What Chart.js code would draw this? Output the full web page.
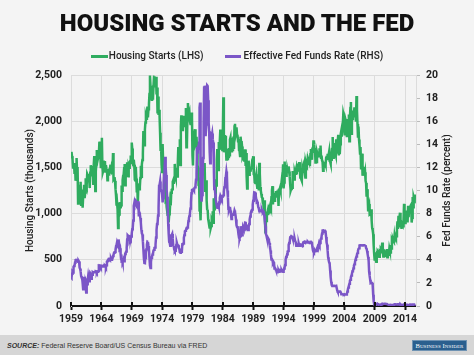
<!DOCTYPE html>
<html><head><meta charset="utf-8">
<script src="https://cdn.jsdelivr.net/npm/chart.js@4.4.1/dist/chart.umd.min.js"></script>
<style>
html,body{margin:0;padding:0;background:#f4f4f4;}
#wrap{position:relative;width:474px;height:355px;overflow:hidden;background:#f4f4f4;font-family:Roboto,"Liberation Sans",sans-serif;}
#title{position:absolute;left:0;top:8px;width:474px;text-align:center;font-size:24px;font-weight:900;line-height:30px;color:#111;}
#legend{position:absolute;left:0;top:49px;width:474px;height:14px;display:flex;justify-content:center;align-items:center;font-size:10px;font-weight:500;color:#222;line-height:14px;}
.sw{display:inline-block;height:3px;}
#cv{position:absolute;left:0;top:0;}
#footer{position:absolute;left:0;top:335px;width:474px;height:20px;background:#d6d6d6;}
#src{position:absolute;left:7px;top:6px;font-size:7px;line-height:9px;color:#333;font-family:"Liberation Sans",Arial,sans-serif;}
#bi{position:absolute;left:412px;top:5px;width:53px;height:9px;background:#2a5f8e;border:1px solid #6f93b3;color:#fff;font-family:"Liberation Serif","DejaVu Serif",serif;font-size:6.5px;line-height:9px;text-align:center;font-variant:small-caps;letter-spacing:0.1px;}
</style></head>
<body>
<div id="wrap">
<canvas id="cv" width="474" height="335"></canvas>
<div id="title">HOUSING STARTS AND THE FED</div>
<div id="legend">
  <span class="sw" style="width:17px;background:#2fac5f"></span><span style="margin-left:1px">Housing Starts (LHS)</span>
  <span class="sw" style="width:16px;background:#7b56c7;margin-left:21px"></span><span style="margin-left:3px">Effective Fed Funds Rate (RHS)</span>
</div>
<div id="footer"><div id="src"><b><i>SOURCE:</i></b> Federal Reserve Board/US Census Bureau via FRED</div><div id="bi">Business Insider</div></div>
</div>
<script>
const startYear = 1959;
const yearTicks = [1959,1964,1969,1974,1979,1984,1989,1994,1999,2004,2009,2014];
const seriesNames = ["Housing Starts (LHS)","Effective Fed Funds Rate (RHS)"];
// Monthly housing starts, thousands (Jan 1959 - Sep 2015)
const housingStarts = [
1657,1667,1620,1590,1498,1503,1547,1430,1540,1355,1416,1601,
1460,1503,1109,1289,1271,1247,1197,1344,1097,1246,1246,1063,
1183,1226,1312,1166,1228,1382,1335,1312,1429,1415,1385,1365,
1361,1278,1443,1524,1483,1404,1450,1517,1324,1533,1622,1564,
1244,1456,1534,1689,1641,1588,1614,1639,1763,1779,1622,1491,
1603,1820,1517,1448,1467,1550,1562,1569,1455,1524,1486,1484,
1361,1433,1423,1438,1478,1488,1529,1432,1482,1452,1460,1656,
1370,1378,1394,1352,1265,1194,1086,1119,1046,843,961,990,
1067,1123,1056,1091,1304,1248,1364,1407,1421,1491,1538,1308,
1380,1520,1466,1554,1408,1405,1512,1495,1556,1569,1630,1548,
1769,1705,1561,1524,1583,1528,1368,1358,1507,1381,1229,1327,
1085,1305,1319,1264,1290,1385,1517,1399,1534,1580,1647,1893,
1828,1741,1910,1986,2049,2026,2083,2158,2041,2128,2182,2295,
2494,2390,2334,2249,2221,2254,2252,2382,2481,2485,2421,2366,
2481,2289,2365,2084,2266,2067,2123,2051,1874,1677,1724,1526,
1451,1752,1555,1607,1426,1513,1316,1142,1150,1070,1026,975,
1032,904,993,1005,1121,1087,1226,1260,1264,1344,1360,1321,
1367,1538,1421,1395,1459,1495,1401,1550,1720,1629,1641,1804,
1527,1943,2063,1892,1971,1893,2058,2020,1949,2042,2042,2142,
1718,1738,2032,2197,2075,2070,2092,1996,1970,1981,2094,2044,
1630,1520,1847,1748,1876,1913,1760,1778,1832,1681,1524,1498,
1341,1350,1047,1051,927,1196,1269,1436,1471,1523,1510,1482,
1547,1246,1306,1360,1140,1045,1041,940,911,873,837,910,
843,866,931,917,1025,902,1166,1046,1144,1173,1372,1303,
1586,1699,1606,1472,1776,1733,1785,1910,1710,1715,1785,1688,
1897,2260,1663,1851,1774,1843,1732,1586,1698,1590,1689,1612,
1711,1632,1800,1821,1680,1676,1684,1743,1676,1834,1698,1942,
1972,1848,1876,1933,1854,1847,1782,1807,1687,1681,1623,1833,
1774,1784,1726,1614,1628,1594,1575,1605,1695,1515,1656,1400,
1271,1473,1532,1573,1421,1478,1467,1493,1492,1522,1569,1563,
1621,1425,1422,1339,1331,1397,1427,1332,1279,1410,1351,1251,
1551,1437,1289,1248,1212,1177,1171,1115,1110,1014,1145,969,
798,965,921,1001,996,1036,1063,1049,1015,1079,1103,1079,
1176,1250,1297,1099,1214,1145,1139,1226,1186,1244,1214,1227,
1210,1210,1083,1258,1260,1280,1254,1300,1343,1392,1376,1533,
1272,1337,1564,1465,1526,1409,1439,1450,1474,1450,1511,1455,
1407,1316,1249,1267,1314,1281,1461,1416,1369,1369,1452,1431,
1467,1491,1424,1516,1504,1467,1472,1557,1475,1392,1489,1370,
1355,1486,1457,1492,1442,1494,1437,1390,1546,1520,1510,1566,
1525,1584,1567,1540,1536,1641,1698,1614,1582,1715,1660,1792,
1748,1670,1710,1553,1611,1559,1669,1648,1635,1608,1648,1708,
1636,1737,1604,1626,1575,1559,1463,1541,1507,1549,1551,1532,
1600,1625,1590,1649,1605,1636,1670,1567,1562,1540,1602,1568,
1698,1829,1642,1592,1764,1717,1655,1633,1804,1648,1753,1788,
1853,1629,1726,1643,1751,1867,1897,1833,1939,1967,2083,2057,
1911,1846,1998,2003,1981,1828,2002,2024,1905,2072,1782,2042,
2144,2207,1864,2061,2025,2068,2054,2095,2151,2065,2147,1994,
2273,2119,1969,1821,1942,1802,1737,1650,1720,1491,1570,1649,
1409,1480,1495,1490,1415,1448,1354,1330,1183,1264,1197,1037,
1084,1103,1005,1013,973,1046,923,844,820,777,652,560,
490,582,505,478,540,585,594,586,585,534,588,581,
614,604,636,687,583,536,546,599,594,543,545,539,
617,528,593,555,556,623,599,580,659,622,711,697,
721,704,695,753,708,757,740,754,847,915,833,976,
888,962,1010,852,919,835,895,883,863,936,1105,1003,
897,928,954,1034,985,905,1085,961,1040,1081,1016,1087,
1097,903,955,1181,1069,1177,1156,1148,1207
];
// Monthly effective fed funds rate, percent (Jan 1959 - Sep 2015)
const fedFundsRate = [
2.48,2.43,2.80,2.96,2.90,3.39,3.47,3.50,3.76,3.98,4.00,3.99,
3.99,3.97,3.84,3.92,3.85,3.32,3.23,2.98,2.60,2.47,2.44,1.98,
1.45,2.54,2.02,1.49,1.98,1.73,1.17,2.00,1.88,2.26,2.61,2.33,
2.15,2.37,2.85,2.78,2.36,2.68,2.71,2.93,2.90,2.90,2.94,2.93,
2.92,3.00,2.98,2.90,3.00,2.99,3.02,3.49,3.48,3.50,3.48,3.38,
3.48,3.48,3.43,3.47,3.50,3.50,3.42,3.50,3.45,3.36,3.52,3.85,
3.90,3.98,4.04,4.09,4.10,4.04,4.09,4.12,4.01,4.08,4.10,4.32,
4.42,4.60,4.65,4.67,4.90,5.17,5.30,5.53,5.40,5.53,5.76,5.40,
4.94,5.00,4.53,4.05,3.94,3.98,3.79,3.90,3.99,3.88,4.13,4.51,
4.61,4.71,5.05,5.76,6.12,6.07,6.02,6.03,5.78,5.91,5.82,6.02,
6.30,6.64,6.79,7.41,8.67,8.90,8.61,9.19,9.15,9.00,8.85,8.97,
8.98,8.98,7.76,8.10,7.95,7.61,7.21,6.61,6.29,6.20,5.60,4.90,
4.14,3.72,3.71,4.16,4.63,4.91,5.31,5.57,5.55,5.20,4.91,4.14,
3.50,3.29,3.83,4.17,4.27,4.46,4.55,4.80,4.87,5.04,5.06,5.33,
5.94,6.58,7.09,7.12,7.84,8.49,10.40,10.50,10.78,10.01,10.03,9.95,
9.65,8.97,9.35,10.51,11.31,11.93,12.92,12.01,11.34,10.06,9.45,8.53,
7.13,6.24,5.54,5.49,5.22,5.55,6.10,6.14,6.24,5.82,5.22,5.20,
4.87,4.77,4.84,4.82,5.29,5.48,5.31,5.29,5.25,5.03,4.95,4.65,
4.61,4.68,4.69,4.73,5.35,5.39,5.42,5.90,6.14,6.47,6.51,6.56,
6.70,6.78,6.79,6.89,7.36,7.60,7.81,8.04,8.45,8.96,9.76,10.03,
10.07,10.06,10.09,10.01,10.24,10.29,10.47,10.94,11.43,13.77,13.18,13.78,
13.82,14.13,17.19,17.61,10.98,9.47,9.03,9.61,10.87,12.81,15.85,18.90,
19.08,15.93,14.70,15.72,18.52,19.10,19.04,17.82,15.87,15.08,13.31,12.37,
13.22,14.78,14.68,14.94,14.45,14.15,12.59,10.12,10.31,9.71,9.20,8.95,
8.68,8.51,8.77,8.80,8.63,8.98,9.37,9.56,9.45,9.48,9.34,9.47,
9.56,9.59,9.91,10.29,10.32,11.06,11.23,11.64,11.30,9.99,9.43,8.38,
8.35,8.50,8.58,8.27,7.97,7.53,7.88,7.90,7.92,7.99,8.05,8.27,
8.14,7.86,7.48,6.99,6.85,6.92,6.56,6.17,5.89,5.85,6.04,6.91,
6.43,6.10,6.13,6.37,6.85,6.73,6.58,6.73,7.22,7.29,6.69,6.77,
6.83,6.58,6.58,6.87,7.09,7.51,7.75,8.01,8.19,8.30,8.35,8.76,
9.12,9.36,9.85,9.84,9.81,9.53,9.24,8.99,9.02,8.84,8.55,8.45,
8.23,8.24,8.28,8.26,8.18,8.29,8.15,8.13,8.20,8.11,7.81,7.31,
6.91,6.25,6.12,5.91,5.78,5.90,5.82,5.66,5.45,5.21,4.81,4.43,
4.03,4.06,3.98,3.73,3.82,3.76,3.25,3.30,3.22,3.10,3.09,2.92,
3.02,3.03,3.07,2.96,3.00,3.04,3.06,3.03,3.09,2.99,3.02,2.96,
3.05,3.25,3.34,3.56,4.01,4.25,4.26,4.47,4.73,4.76,5.29,5.45,
5.53,5.92,5.98,6.05,6.01,6.00,5.85,5.74,5.80,5.76,5.80,5.60,
5.56,5.22,5.31,5.22,5.24,5.27,5.40,5.22,5.30,5.24,5.31,5.29,
5.25,5.19,5.39,5.51,5.50,5.56,5.52,5.54,5.54,5.50,5.52,5.50,
5.56,5.51,5.49,5.45,5.49,5.56,5.54,5.55,5.51,5.07,4.83,4.68,
4.63,4.76,4.81,4.74,4.74,4.76,4.99,5.07,5.22,5.20,5.42,5.30,
5.45,5.73,5.85,6.02,6.27,6.53,6.54,6.50,6.52,6.51,6.51,6.40,
5.98,5.49,5.31,4.80,4.21,3.97,3.77,3.65,3.07,2.49,2.09,1.82,
1.73,1.74,1.73,1.75,1.75,1.75,1.73,1.74,1.75,1.75,1.34,1.24,
1.24,1.26,1.25,1.26,1.26,1.22,1.01,1.03,1.01,1.01,1.00,0.98,
1.00,1.01,1.00,1.00,1.00,1.03,1.26,1.43,1.61,1.76,1.93,2.16,
2.28,2.50,2.63,2.79,3.00,3.04,3.26,3.50,3.62,3.78,4.00,4.16,
4.29,4.49,4.59,4.79,4.94,4.99,5.24,5.25,5.25,5.25,5.25,5.24,
5.25,5.26,5.26,5.25,5.25,5.25,5.26,5.02,4.94,4.76,4.49,4.24,
3.94,2.98,2.61,2.28,1.98,2.00,2.01,2.00,1.81,0.97,0.39,0.16,
0.15,0.22,0.18,0.15,0.18,0.21,0.16,0.16,0.15,0.12,0.12,0.12,
0.11,0.13,0.16,0.20,0.20,0.18,0.18,0.19,0.19,0.19,0.19,0.18,
0.17,0.16,0.14,0.10,0.09,0.09,0.07,0.10,0.08,0.07,0.08,0.07,
0.08,0.10,0.13,0.14,0.16,0.16,0.16,0.13,0.14,0.16,0.16,0.16,
0.14,0.15,0.14,0.15,0.11,0.09,0.09,0.08,0.08,0.09,0.08,0.09,
0.07,0.07,0.08,0.09,0.09,0.10,0.09,0.09,0.09,0.09,0.09,0.12,
0.11,0.11,0.11,0.12,0.12,0.13,0.13,0.14,0.14
];

const toPoints = arr => arr.map((v, i) => ({x: startYear + i / 12, y: v}));
const tickFont = {family: 'Roboto', size: 10.5, weight: 'bold'};
const gridColor = '#dcdcdc';

const crossTicks = {
  id: 'crossTicks',
  afterDatasetsDraw(chart) {
    const xs = chart.scales.x, ctx = chart.ctx, b = chart.chartArea.bottom;
    ctx.save();
    ctx.strokeStyle = '#111';
    ctx.lineWidth = 2;
    yearTicks.forEach(v => {
      const px = Math.round(xs.getPixelForValue(v));
      ctx.beginPath(); ctx.moveTo(px, b - 4); ctx.lineTo(px, b); ctx.stroke();
    });
    ctx.restore();
  }
};
const rightTitle = {
  id: 'rightTitle',
  afterDraw(chart) {
    const ca = chart.chartArea, ctx = chart.ctx;
    ctx.save();
    ctx.translate(447, (ca.top + ca.bottom) / 2);
    ctx.rotate(-Math.PI / 2);
    ctx.font = '500 10px Roboto';
    ctx.fillStyle = '#222';
    ctx.textAlign = 'center';
    ctx.textBaseline = 'middle';
    ctx.fillText('Fed Funds Rate (percent)', 0, 0);
    ctx.restore();
  }
};

new Chart(document.getElementById('cv'), {
  type: 'line',
  data: {
    datasets: [
      {label: seriesNames[0], data: toPoints(housingStarts), yAxisID: 'yL', borderColor: '#2fac5f', backgroundColor: '#2fac5f', borderWidth: 2.5, pointRadius: 0, tension: 0, order: 2},
      {label: seriesNames[1], data: toPoints(fedFundsRate), yAxisID: 'yR', borderColor: '#7b56c7', backgroundColor: '#7b56c7', borderWidth: 2.5, pointRadius: 0, tension: 0, order: 1}
    ]
  },
  options: {
    responsive: false,
    animation: false,
    layout: {padding: {top: 75, left: 0, right: 0, bottom: 0}},
    plugins: {legend: {display: false}, title: {display: false}, tooltip: {enabled: false}},
    scales: {
      x: {
        type: 'linear', min: 1959, max: 2015.8,
        afterBuildTicks: s => { s.ticks = yearTicks.map(v => ({value: v})); },
        afterFit: s => { s.height = 29; },
        ticks: {autoSkip: false, maxRotation: 0, font: tickFont, color: '#222', padding: 3, callback: v => String(v)},
        grid: {color: gridColor, lineWidth: 1, tickColor: '#111', tickLength: 4, tickWidth: 2},
        border: {color: '#111', width: 2}
      },
      yL: {
        position: 'left', min: 0, max: 2500,
        afterFit: s => { s.width = 71; },
        ticks: {stepSize: 500, font: tickFont, color: '#222', padding: 9},
        grid: {color: gridColor, lineWidth: 1, drawTicks: false},
        border: {color: gridColor},
        title: {display: true, text: 'Housing Starts (thousands)', font: {family: 'Roboto', size: 10, weight: '500'}, color: '#222', padding: {top: 24, bottom: 0}}
      },
      yR: {
        position: 'right', min: 0, max: 20,
        afterFit: s => { s.width = 58; },
        ticks: {stepSize: 2, font: tickFont, color: '#222', padding: 6},
        grid: {drawOnChartArea: false, tickLength: 4, tickColor: '#bbb'},
        border: {color: gridColor}
      }
    }
  },
  plugins: [crossTicks, rightTitle]
});
</script>
</body></html>
